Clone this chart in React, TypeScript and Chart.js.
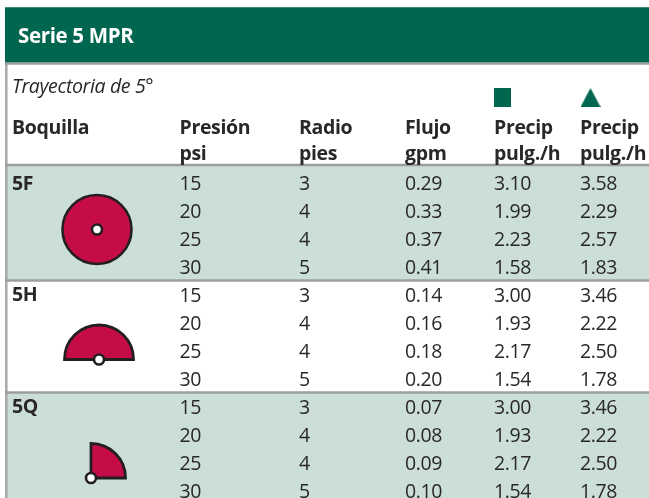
import React, { useEffect, useRef } from "react";
import { Chart, registerables, ArcElement } from "chart.js";

Chart.register(...registerables);

const title = "Serie 5 MPR";
const subtitle = "Trayectoria de 5°";
const headersTop = ["Boquilla", "Presión", "Radio", "Flujo", "Precip", "Precip"];
const headersBottom = ["", "psi", "pies", "gpm", "pulg./h", "pulg./h"];
const nozzles = ["5F", "5H", "5Q"];
const sweepDegrees = [360, 180, 90];
const pressure = ["15", "20", "25", "30", "15", "20", "25", "30", "15", "20", "25", "30"];
const radius = ["3", "4", "4", "5", "3", "4", "4", "5", "3", "4", "4", "5"];
const flow = ["0.29", "0.33", "0.37", "0.41", "0.14", "0.16", "0.18", "0.20", "0.07", "0.08", "0.09", "0.10"];
const precipSquare = ["3.10", "1.99", "2.23", "1.58", "3.00", "1.93", "2.17", "1.54", "3.00", "1.93", "2.17", "1.54"];
const precipTriangle = ["3.58", "2.29", "2.57", "1.83", "3.46", "2.22", "2.50", "1.78", "3.46", "2.22", "2.50", "1.78"];

const GREEN = "#006650";
const BAND = "#cbdeda";
const RULE = "#9b9e9f";
const INK = "#2a2728";
const MAGENTA = "#c60c46";
const OUTLINE = "#231f20";

const ROW0 = 183;
const PITCH = 27.98;
const py = (px: number) => (px - ROW0) / PITCH;
const columns = [12, 179.5, 299, 405, 494, 580];
const BODY = "'Open Sans'";

function shape(kind: "square" | "triangle") {
  const c = document.createElement("canvas");
  c.width = kind === "square" ? 17 : 20;
  c.height = 19;
  const g = c.getContext("2d")!;
  g.fillStyle = GREEN;
  if (kind === "square") {
    g.fillRect(0, 0, 17, 19);
  } else {
    g.beginPath();
    g.moveTo(10, 0);
    g.lineTo(20, 19);
    g.lineTo(0, 19);
    g.closePath();
    g.fill();
  }
  return c;
}

const tablePlugin = {
  id: "table",
  afterDatasetDraw(chart: any, args: any) {
    if (args.index !== 0) return;
    const { ctx, scales } = chart;
    const sx = [[97, 229.5], [99, 359.5], [91, 478]];
    const starts = [0, Math.PI, -Math.PI / 2];
    sweepDegrees.forEach((deg, i) => {
      const arc: any = new (ArcElement as any)({
        x: scales.x.getPixelForValue(sx[i][0]),
        y: scales.y.getPixelForValue(py(sx[i][1])),
        startAngle: starts[i],
        endAngle: starts[i] + (deg * Math.PI) / 180,
        circumference: (deg * Math.PI) / 180,
        innerRadius: 0,
        outerRadius: 34.5,
      });
      arc.options = {
        backgroundColor: MAGENTA,
        borderColor: OUTLINE,
        borderWidth: deg === 360 ? 0 : 2.8,
        borderAlign: "center",
        borderJoinStyle: "miter",
        borderRadius: 0,
        spacing: 0,
        offset: 0,
        circular: true,
        borderDash: [],
        borderDashOffset: 0,
      };
      arc.draw(ctx);
    });
  },
  afterDraw(chart: any) {
    const { ctx, scales } = chart;
    const X = (v: number) => scales.x.getPixelForValue(v);
    const Y = (v: number) => scales.y.getPixelForValue(v);
    ctx.save();
    ctx.textBaseline = "alphabetic";
    ctx.letterSpacing = "-0.35px";
    ctx.fillStyle = "#ffffff";
    ctx.font = `bold 20.5px ${BODY}`;
    ctx.fillText(title, 18, Y(py(43)));
    ctx.fillStyle = INK;
    ctx.font = `italic 19.5px ${BODY}`;
    ctx.fillText(subtitle, 12, Y(py(93)));
    ctx.font = `bold 19.5px ${BODY}`;
    headersTop.forEach((t, i) => ctx.fillText(t, X(columns[i]), Y(py(134))));
    headersBottom.forEach((t, i) => ctx.fillText(t, X(columns[i]), Y(py(160))));
    nozzles.forEach((t, i) => ctx.fillText(t, X(columns[0]), Y(i * 4) + 6.5));
    ctx.font = `19.5px ${BODY}`;
    [pressure, radius, flow, precipSquare, precipTriangle].forEach((col, c) => {
      col.forEach((t, r) => ctx.fillText(t, X(columns[c + 1]), Y(r) + 7));
    });
    ctx.restore();
  },
};

export default function App() {
  const ref = useRef<HTMLCanvasElement>(null);
  useEffect(() => {
    const rule = (pts: { x: number; y: number }[], w: number, color = RULE) => ({
      type: "line" as const,
      xAxisID: "x",
      yAxisID: "y",
      data: pts,
      borderColor: color,
      borderWidth: w,
      pointRadius: 0,
      clip: false,
      order: 2,
    });
    const band = (a: number, b: number, color: string) => ({
      type: "bar" as const,
      xAxisID: "xb",
      yAxisID: "y",
      data: [[py(a), py(b)]],
      backgroundColor: color,
      barPercentage: 1,
      categoryPercentage: 1,
      grouped: false,
      order: 5,
    });
    const chart = new Chart(ref.current!, {
      type: "bar",
      data: {
        labels: ["tabla"],
        datasets: [
          band(7.5, 62.5, GREEN),
          band(165, 280, BAND),
          band(281, 392, "#ffffff"),
          band(392, 498, BAND),
          rule([{ x: 5, y: py(63.5) }, { x: 649, y: py(63.5) }], 2.5),
          rule([{ x: 5, y: py(165) }, { x: 649, y: py(165) }], 2.5),
          rule([{ x: 5, y: py(280.5) }, { x: 649, y: py(280.5) }], 2.5),
          rule([{ x: 5, y: py(392.5) }, { x: 649, y: py(392.5) }], 2.5),
          rule([{ x: 6.3, y: py(63) }, { x: 6.3, y: py(498) }], 2.5, "#a6a8a9"),
          {
            type: "line" as const,
            xAxisID: "x",
            yAxisID: "y",
            showLine: false,
            data: [{ x: 502.5, y: py(97.5) }],
            pointStyle: shape("square"),
            order: 1,
          },
          {
            type: "line" as const,
            xAxisID: "x",
            yAxisID: "y",
            showLine: false,
            data: [{ x: 590.5, y: py(97.5) }],
            pointStyle: shape("triangle"),
            order: 1,
          },
          {
            type: "line" as const,
            xAxisID: "x",
            yAxisID: "y",
            showLine: false,
            data: [{ x: 97, y: py(229.5) }],
            pointRadius: 34.5,
            pointBackgroundColor: "rgba(0,0,0,0)",
            pointBorderColor: OUTLINE,
            pointBorderWidth: 2.6,
            order: 1,
          },
          {
            type: "line" as const,
            xAxisID: "x",
            yAxisID: "y",
            showLine: false,
            data: [
              { x: 97, y: py(229.5) },
              { x: 99, y: py(359.5) },
              { x: 91, y: py(478) },
            ],
            pointRadius: 5,
            pointBackgroundColor: "#ffffff",
            pointBorderColor: OUTLINE,
            pointBorderWidth: 2.6,
            order: 0,
          },
        ] as any,
      },
      options: {
        responsive: false,
        animation: false,
        layout: { autoPadding: false, padding: { left: 5, right: 0, top: 0, bottom: 0 } },
        plugins: { legend: { display: false }, tooltip: { enabled: false } },
        scales: {
          xb: { type: "category", display: false, offset: true },
          x: { type: "linear", display: false, offset: false, min: 5, max: 649 },
          y: { type: "linear", display: false, min: py(0), max: py(498), reverse: true },
        },
      } as any,
      plugins: [tablePlugin],
    });
    return () => chart.destroy();
  }, []);
  return (
    <canvas
      ref={ref}
      width={649}
      height={498}
      style={{ position: "absolute", left: 0, top: 0, display: "block" }}
    />
  );
}
